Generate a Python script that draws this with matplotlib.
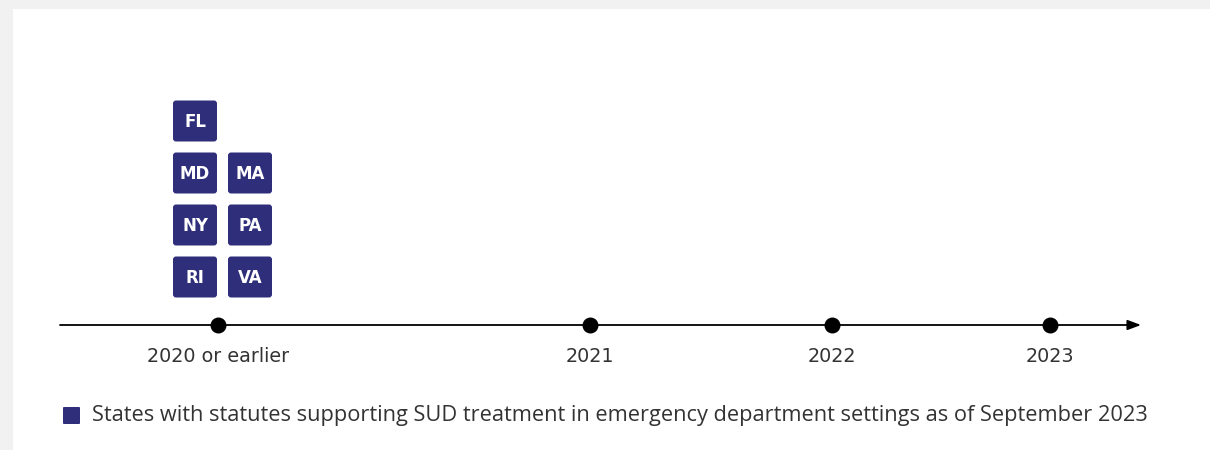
import matplotlib
matplotlib.use("Agg")
import matplotlib.pyplot as plt
from matplotlib.patches import FancyBboxPatch, Rectangle

# Timeline periods and their positions along the axis
periods = ["2020 or earlier", "2021", "2022", "2023"]
period_x = [218, 590, 832, 1050]

# States with supporting statutes, grouped by period (display order)
states_2020 = ["FL", "MD", "MA", "NY", "PA", "RI", "VA"]
states_by_period = {"2020 or earlier": states_2020, "2021": [], "2022": [], "2023": []}

legend_text = ("States with statutes supporting SUD treatment in emergency "
               "department settings as of September 2023")

NAVY = "#2f2e7a"
TEXT = "#333333"

W, H = 1210, 450
fig = plt.figure(figsize=(W / 100, H / 100), dpi=100)
fig.patch.set_facecolor("#f1f1f1")
ax = fig.add_axes([0, 0, 1, 1])
ax.set_xlim(0, W)
ax.set_ylim(H, 0)
ax.axis("off")

# White panel
ax.add_patch(Rectangle((13, 9), W - 13, H - 9, facecolor="white", edgecolor="none", zorder=0))

# Timeline axis with arrow
line_y = 325
ax.annotate("", xy=(1141, line_y), xytext=(60, line_y),
            arrowprops=dict(arrowstyle="-|>,head_length=0.8,head_width=0.3",
                            color="black", lw=1.3, shrinkA=0, shrinkB=0))
ax.scatter(period_x, [line_y] * len(period_x), s=110, color="black", zorder=3)
for name, x in zip(periods, period_x):
    ax.text(x, 357, name, ha="center", va="center", fontsize=13.8,
            color=TEXT, family="DejaVu Sans")

# State boxes stacked above each period, two per row, partial row on top
box_w, box_h = 44, 41
col_gap, row_gap = 55, 52
bottom_center = 277
for name, x in zip(periods, period_x):
    states = states_by_period[name]
    n = len(states)
    if n == 0:
        continue
    n_rows = (n + 1) // 2
    first = n % 2 if n % 2 else 2
    rows = [states[:first]]
    rest = states[first:]
    rows += [rest[i:i + 2] for i in range(0, len(rest), 2)]
    for r, row in enumerate(rows):
        cy = bottom_center - (n_rows - 1 - r) * row_gap
        for c, st in enumerate(row):
            cx = x - 23 + c * col_gap
            ax.add_patch(FancyBboxPatch((cx - box_w / 2 + 3, cy - box_h / 2 + 3),
                                        box_w - 6, box_h - 6,
                                        boxstyle="round,pad=3",
                                        facecolor=NAVY, edgecolor="none", zorder=2))
            ax.text(cx, cy + 1, st, ha="center", va="center", color="white",
                    fontsize=12, fontweight="heavy", family="DejaVu Sans", zorder=3)

# Legend
ax.add_patch(FancyBboxPatch((64, 408), 15, 15, boxstyle="round,pad=1",
                            facecolor=NAVY, edgecolor="none"))
ax.text(92, 415, legend_text, ha="left", va="center", fontsize=15.65,
        color=TEXT, family="Open Sans")

fig.savefig("out.png", dpi=100, facecolor=fig.get_facecolor())
